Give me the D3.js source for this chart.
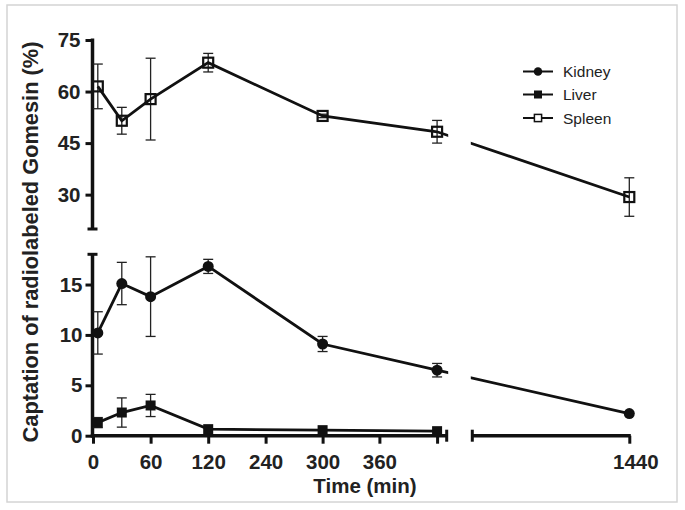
<!DOCTYPE html>
<html><head><meta charset="utf-8">
<script src="https://cdn.jsdelivr.net/npm/d3@7"></script>
<style>body{margin:0;background:#fff} svg{display:block} text{font-family:"Liberation Sans",Arial,sans-serif}</style>
</head><body><svg id="c" width="685" height="510"></svg>
<script>
const times = [5, 30, 60, 120, 300, 420, 1440];
const kidney = [10.2, 15.1, 13.8, 16.8, 9.1, 6.5, 2.2];
const kidneyErr = [2.1, 2.1, 3.95, 0.7, 0.75, 0.67, 0];
const liver = [1.3, 2.3, 3.0, 0.65, 0.55, 0.45, null];
const liverErr = [0.5, 1.45, 1.1, 0, 0, 0, 0];
const spleen = [61.5, 51.5, 57.8, 68.4, 52.9, 48.3, 29.3];
const spleenErr = [6.5, 3.9, 11.9, 2.7, 0.5, 3.3, 5.6];
const xTicks = [0, 60, 120, 240, 300, 360, 420, 1440];
const xTickLabels = ["0", "60", "120", "240", "300", "360", "", "1440"];
const yTopTicks = [30, 45, 60, 75];
const yBotTicks = [0, 5, 10, 15];
const seriesNames = ["Kidney", "Liver", "Spleen"];

const svg = d3.select("#c");
const ink = "#111";

// frame
svg.append("rect").attr("x", 7).attr("y", 5).attr("width", 670).attr("height", 497)
  .attr("fill", "none").attr("stroke", "#d4d4d4").attr("stroke-width", 1.5);

// broken x scale (segment 1: 0..430, segment 2: 1200..1440)
const x = d3.scaleLinear()
  .domain([0, 60, 120, 240, 300, 360, 430, 1200, 1440])
  .range([93, 150.6, 208.2, 265.6, 322.6, 379.4, 446.7, 472.3, 629.3]);
const yTop = d3.scaleLinear().domain([20, 75]).range([229, 40]);
const yBot = d3.scaleLinear().domain([0, 18]).range([435.7, 254.3]);
const axX = 92.5, axY = yBot(0);

// clip for the break
const defs = svg.append("defs");
const cp = defs.append("clipPath").attr("id", "brk");
cp.append("rect").attr("x", 0).attr("y", 0).attr("width", x(430) + 1.5).attr("height", 510);
cp.append("rect").attr("x", x(1200) - 1.5).attr("y", 0).attr("width", 685).attr("height", 510);

// ---- axes ----
const gYT = svg.append("g").attr("transform", `translate(${axX},0)`)
  .call(d3.axisLeft(yTop).tickValues(yTopTicks).tickSize(7).tickPadding(5).tickSizeOuter(0));
const gYB = svg.append("g").attr("transform", `translate(${axX},0)`)
  .call(d3.axisLeft(yBot).tickValues(yBotTicks).tickSize(7).tickPadding(3).tickSizeOuter(0));
const gX = svg.append("g").attr("transform", `translate(0,${axY})`)
  .call(d3.axisBottom(x).tickValues(xTicks).tickFormat((d, i) => xTickLabels[i]).tickSize(8).tickPadding(11).tickSizeOuter(0));
[gYT, gYB, gX].forEach(g => {
  g.select(".domain").remove();
  g.selectAll(".tick line").attr("stroke", ink).attr("stroke-width", 3);
  g.selectAll(".tick text").attr("fill", "#222").attr("font-size", 20.5).attr("font-weight", "bold");
});
gX.selectAll(".tick text").filter(d => d === 1440).attr("dx", 6);

const axisLine = (x1, y1, x2, y2, w) => svg.append("line")
  .attr("x1", x1).attr("y1", y1).attr("x2", x2).attr("y2", y2)
  .attr("stroke", ink).attr("stroke-width", w);
// y segments
axisLine(axX, yTop(20), axX, yTop(75) - 1.5, 3.5);
axisLine(axX - 5, yTop(20), axX + 5, yTop(20), 3);
axisLine(axX, yBot(0) + 1.5, axX, yBot(18), 3.5);
axisLine(axX - 5, yBot(18), axX + 5, yBot(18), 3);
// x segments
axisLine(axX - 1.75, axY, x(430), axY, 3.5);
axisLine(x(430), axY - 6, x(430), axY + 6, 3);
axisLine(x(1200), axY, x(1440) + 1.5, axY, 3.5);
axisLine(x(1200), axY - 6, x(1200), axY + 6, 3);

// ---- data ----
function series(vals, errs, yS) {
  return times.map((t, i) => ({ t, v: vals[i], e: errs[i], y: yS }));
}
const S = {
  Kidney: series(kidney, kidneyErr, yBot),
  Liver: series(liver, liverErr, yBot),
  Spleen: series(spleen, spleenErr, yTop)
};

const plot = svg.append("g");
// error bars
seriesNames.forEach(n => {
  S[n].filter(d => d.v != null && d.e > 0).forEach(d => {
    const g = plot.append("g").attr("stroke", "#222").attr("stroke-width", 1.3);
    const cx = x(d.t);
    g.append("line").attr("x1", cx).attr("x2", cx).attr("y1", d.y(d.v - d.e)).attr("y2", d.y(d.v + d.e));
    g.append("line").attr("x1", cx - 5).attr("x2", cx + 5).attr("y1", d.y(d.v - d.e)).attr("y2", d.y(d.v - d.e));
    g.append("line").attr("x1", cx - 5).attr("x2", cx + 5).attr("y1", d.y(d.v + d.e)).attr("y2", d.y(d.v + d.e));
  });
});
// lines
seriesNames.forEach(n => {
  const line = d3.line().defined(d => d.v != null).x(d => x(d.t)).y(d => d.y(d.v));
  plot.append("path").attr("d", line(S[n])).attr("fill", "none")
    .attr("stroke", ink).attr("stroke-width", 2.8).attr("clip-path", "url(#brk)");
});
// markers
function marker(g, type, cx, cy, s) {
  if (type === "Kidney") g.append("circle").attr("cx", cx).attr("cy", cy).attr("r", s / 2).attr("fill", ink);
  else if (type === "Liver") g.append("rect").attr("x", cx - s / 2).attr("y", cy - s / 2).attr("width", s).attr("height", s).attr("fill", ink);
  else g.append("rect").attr("x", cx - s / 2 + 1).attr("y", cy - s / 2 + 1).attr("width", s - 2).attr("height", s - 2)
    .attr("fill", "none").attr("stroke", ink).attr("stroke-width", 2.2);
}
const mSize = { Kidney: 11, Liver: 10, Spleen: 12 };
seriesNames.forEach(n => {
  S[n].filter(d => d.v != null).forEach(d => marker(plot, n, x(d.t), d.y(d.v), mSize[n]));
});

// ---- legend ----
const legRows = [71.5, 94.5, 118];
const lg = svg.append("g");
seriesNames.forEach((n, i) => {
  const yy = legRows[i];
  lg.append("line").attr("x1", 523).attr("x2", 553).attr("y1", yy).attr("y2", yy)
    .attr("stroke", ink).attr("stroke-width", 2);
  const ls = { Kidney: 8.5, Liver: 8, Spleen: 8.5 }[n];
  if (n === "Spleen") {
    lg.append("rect").attr("x", 538 - 3.6).attr("y", yy - 3.6).attr("width", 7.2).attr("height", 7.2)
      .attr("fill", "#fff").attr("stroke", ink).attr("stroke-width", 1.5);
  } else marker(lg, n, 538, yy, ls);
  lg.append("text").attr("x", 563).attr("y", yy).attr("dy", "0.36em")
    .attr("font-size", 15.5).attr("fill", "#222").text(n);
});

// ---- titles ----
svg.append("text").attr("transform", "translate(38,242) rotate(-90)")
  .attr("text-anchor", "middle").attr("font-size", 21.8).attr("font-weight", "bold").attr("fill", "#222")
  .text("Captation of radiolabeled Gomesin (%)");
svg.append("text").attr("x", 365).attr("y", 493).attr("text-anchor", "middle")
  .attr("font-size", 20.5).attr("font-weight", "bold").attr("fill", "#222").text("Time (min)");
</script></body></html>
